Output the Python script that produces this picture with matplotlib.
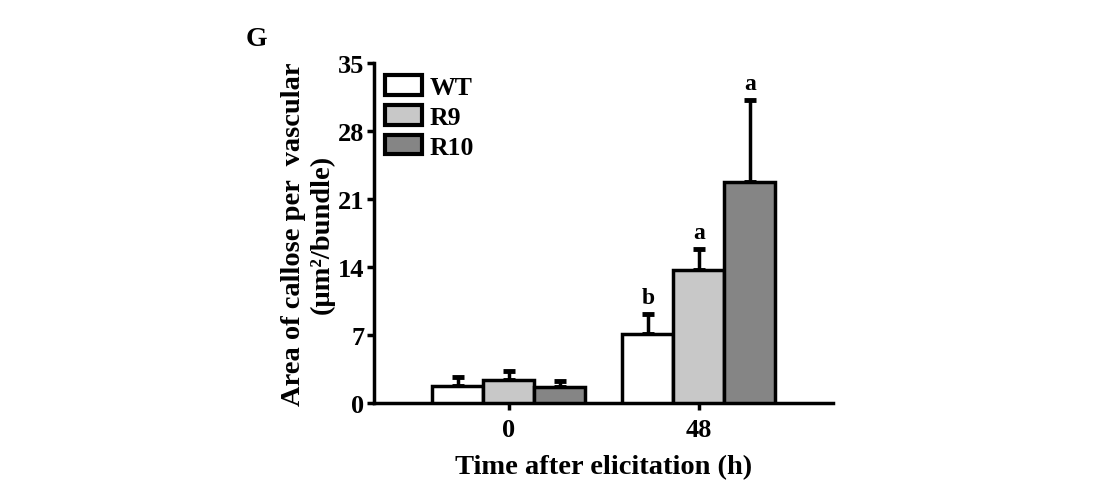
import numpy as np
import matplotlib
matplotlib.use("Agg")
import matplotlib.pyplot as plt

plt.rcParams["font.family"] = ["Liberation Serif", "DejaVu Serif"]
plt.rcParams["font.weight"] = "bold"

# ── data ──────────────────────────────────────────────
times = ["0", "48"]
genotypes = ["WT", "R9", "R10"]
means = {
    "WT":  [1.75, 7.1],
    "R9":  [2.35, 13.7],
    "R10": [1.65, 22.8],
}
errs = {
    "WT":  [0.95, 2.1],
    "R9":  [0.95, 2.2],
    "R10": [0.65, 8.4],
}
letters_48 = ["b", "a", "a"]
colors = {"WT": "#ffffff", "R9": "#c8c8c8", "R10": "#858585"}

# ── figure ────────────────────────────────────────────
fig = plt.figure(figsize=(11.03, 4.81), dpi=100)
ax = fig.add_axes([0.339, 0.160, 0.416, 0.707])

x = np.arange(len(times))
width = 0.268
lw = 2.5
for i, g in enumerate(genotypes):
    pos = x + (i - 1) * width
    ax.bar(pos, means[g], width, color=colors[g], edgecolor="black",
           linewidth=lw, label=g, zorder=3)
    ax.errorbar(pos, means[g], yerr=[np.zeros(len(times)), errs[g]],
                fmt="none", ecolor="black", elinewidth=lw, capsize=4,
                capthick=lw + 1, zorder=2)
    ax.text(pos[1], means[g][1] + errs[g][1] + 0.6, letters_48[i],
            ha="center", va="bottom", fontsize=17, fontweight="bold")

ax.set_xlim(-0.71, 1.705)
ax.set_ylim(0, 35)
ax.set_yticks([0, 7, 14, 21, 28, 35])
ax.set_xticks(x)
ax.set_xticklabels(times)
for s in ["top", "right"]:
    ax.spines[s].set_visible(False)
for s in ["left", "bottom"]:
    ax.spines[s].set_linewidth(lw)
ax.tick_params(axis="both", width=lw, length=5, labelsize=19)
ax.tick_params(axis="y", pad=2)
ax.tick_params(axis="x", pad=6)

ax.set_ylabel("Area of callose per  vascular\n(μm²/bundle)",
              fontsize=20.5, fontweight="bold", linespacing=1.18, labelpad=2)
ax.set_xlabel("Time after elicitation (h)", fontsize=20.5,
              fontweight="bold", labelpad=9)

leg = ax.legend(loc="upper left", bbox_to_anchor=(-0.01, 1.01),
                frameon=False, fontsize=18.5, handlelength=1.45,
                handleheight=0.8, handletextpad=0.3, labelspacing=0.24,
                borderaxespad=0.2)
for h in leg.legend_handles:
    h.set_linewidth(lw + 0.5)

fig.text(0.223, 0.905, "G", fontsize=20, fontweight="bold")

plt.savefig("out.png", dpi=100)
